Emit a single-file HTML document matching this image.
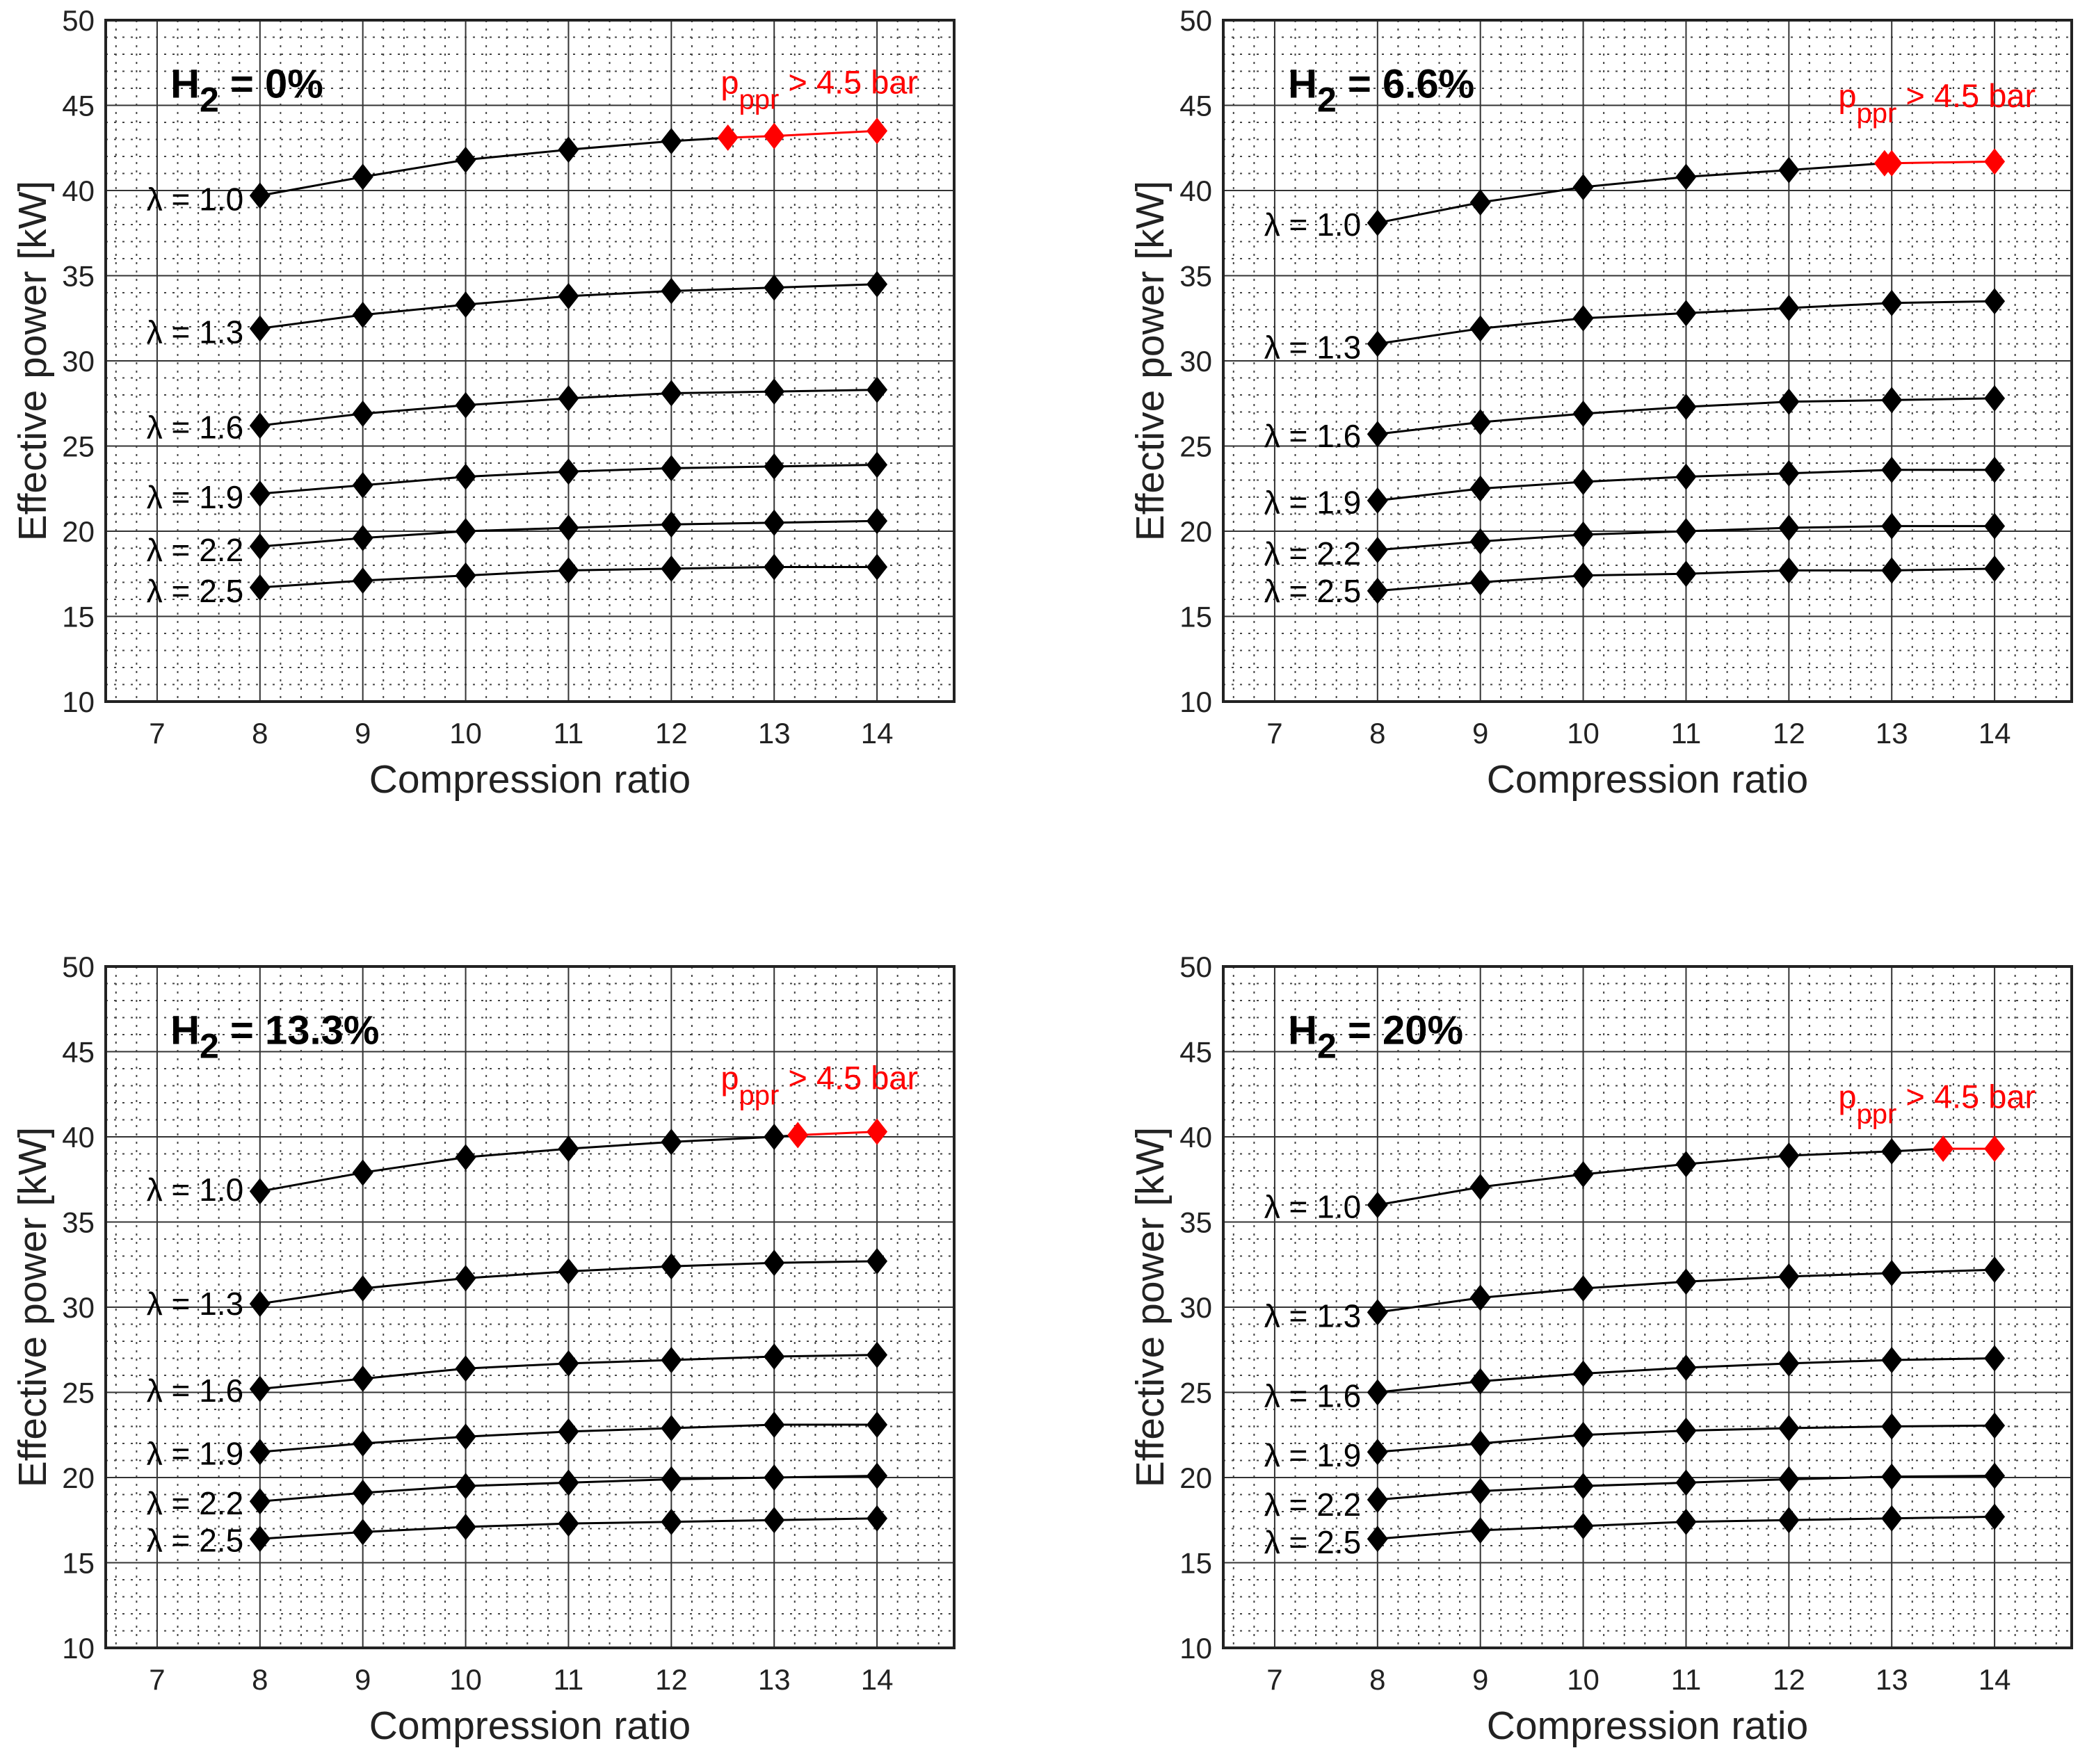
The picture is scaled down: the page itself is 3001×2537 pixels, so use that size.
<!DOCTYPE html>
<html><head><meta charset="utf-8"><style>
html,body{margin:0;padding:0;background:#fff;}
svg{display:block;font-family:"Liberation Sans",Arial,sans-serif;}
</style></head><body>
<svg id="chart" width="3001" height="2537" viewBox="0 0 3001 2537" xmlns="http://www.w3.org/2000/svg"></svg>
<script>
const xTicks = [7,8,9,10,11,12,13,14];
const yTicks = [10,15,20,25,30,35,40,45,50];
const lambdas = ["1.0","1.3","1.6","1.9","2.2","2.5"];
const titles = ["0%","6.6%","13.3%","20%"];
const blackX = [8,9,10,11,12,13,14];
// Panel 1: H2 = 0%
const p1 = [
 [39.7,40.8,41.8,42.4,42.9],
 [31.9,32.7,33.3,33.8,34.1,34.3,34.5],
 [26.2,26.9,27.4,27.8,28.1,28.2,28.3],
 [22.2,22.7,23.2,23.5,23.7,23.8,23.9],
 [19.1,19.6,20.0,20.2,20.4,20.5,20.6],
 [16.7,17.1,17.4,17.7,17.8,17.9,17.9]];
const p1RedX = [12.55,13,14];
const p1RedY = [43.1,43.2,43.5];
// Panel 2: H2 = 6.6%
const p2 = [
 [38.1,39.3,40.2,40.8,41.2],
 [31.0,31.9,32.5,32.8,33.1,33.4,33.5],
 [25.7,26.4,26.9,27.3,27.6,27.7,27.8],
 [21.8,22.5,22.9,23.2,23.4,23.6,23.6],
 [18.9,19.4,19.8,20.0,20.2,20.3,20.3],
 [16.5,17.0,17.4,17.5,17.7,17.7,17.8]];
const p2RedX = [12.93,13,14];
const p2RedY = [41.6,41.6,41.7];
// Panel 3: H2 = 13.3%
const p3 = [
 [36.8,37.9,38.8,39.3,39.7,40.0],
 [30.2,31.1,31.7,32.1,32.4,32.6,32.7],
 [25.2,25.8,26.4,26.7,26.9,27.1,27.2],
 [21.5,22.0,22.4,22.7,22.9,23.1,23.1],
 [18.6,19.1,19.5,19.7,19.9,20.0,20.1],
 [16.4,16.8,17.1,17.3,17.4,17.5,17.6]];
const p3RedX = [13.23,14];
const p3RedY = [40.1,40.3];
// Panel 4: H2 = 20%
const p4 = [
 [36.0,37.05,37.8,38.4,38.9,39.15],
 [29.7,30.55,31.1,31.5,31.8,32.0,32.2],
 [25.0,25.65,26.1,26.45,26.7,26.9,27.0],
 [21.5,22.0,22.5,22.75,22.9,23.0,23.05],
 [18.7,19.2,19.5,19.7,19.9,20.05,20.1],
 [16.4,16.9,17.15,17.4,17.5,17.6,17.7]];
const p4RedX = [13.5,14];
const p4RedY = [39.3,39.3];
const labelY1 = [39.5,31.7,26.1,22.0,18.9,16.5];
const labelY2 = [38.0,30.8,25.6,21.7,18.7,16.5];
const labelY3 = [36.9,30.2,25.1,21.4,18.5,16.3];
const labelY4 = [35.9,29.5,24.8,21.3,18.4,16.2];
const redLabelY = [45.7,44.9,42.8,41.7];

const panels = [
 {ox:152, oy:29, data:p1, rx:p1RedX, ry:p1RedY, ly:labelY1},
 {ox:1759, oy:29, data:p2, rx:p2RedX, ry:p2RedY, ly:labelY2},
 {ox:152, oy:1390, data:p3, rx:p3RedX, ry:p3RedY, ly:labelY3},
 {ox:1759, oy:1390, data:p4, rx:p4RedX, ry:p4RedY, ly:labelY4}];
const W=1220, H=980, XMIN=6.5, XMAX=14.75, YMIN=10, YMAX=50;
const NS="http://www.w3.org/2000/svg";
const svg=document.getElementById('chart');
function mk(tag,attrs,parent){const e=document.createElementNS(NS,tag);for(const k in attrs)e.setAttribute(k,attrs[k]);(parent||svg).appendChild(e);return e;}

panels.forEach((p,pi)=>{
  const sx=v=>p.ox+(v-XMIN)/(XMAX-XMIN)*W;
  const sy=v=>p.oy+H-(v-YMIN)/(YMAX-YMIN)*H;
  const g=mk('g',{});
  
  
  for(let v=6.6;v<14.75;v+=0.2){const vv=Math.round(v*10)/10;if(Number.isInteger(vv)&&vv>=7)continue;
    const l=mk('line',{x1:sx(vv),x2:sx(vv),y1:p.oy,y2:p.oy+H,stroke:'#444','stroke-width':2,'stroke-dasharray':'3 9'},g);
    }
  for(let v=11;v<50;v++){if(v%5===0)continue;
    const l=mk('line',{x1:p.ox,x2:p.ox+W,y1:sy(v),y2:sy(v),stroke:'#444','stroke-width':2,'stroke-dasharray':'3 9'},g);
    }
  xTicks.forEach(t=>{const l=mk('line',{x1:sx(t),x2:sx(t),y1:p.oy,y2:p.oy+H,stroke:'#333','stroke-width':2},g);
    
    const tx=mk('text',{x:sx(t),y:p.oy+H+60,'font-size':42,'text-anchor':'middle',fill:'#222'},g);tx.textContent=t;
    });
  yTicks.forEach(t=>{const l=mk('line',{x1:p.ox,x2:p.ox+W,y1:sy(t),y2:sy(t),stroke:'#333','stroke-width':2},g);
    
    const tx=mk('text',{x:p.ox-16,y:sy(t)+15,'font-size':42,'text-anchor':'end',fill:'#222'},g);tx.textContent=t;
    });
  const fr=mk('rect',{x:p.ox,y:p.oy,width:W,height:H,fill:'none',stroke:'#222','stroke-width':4},g);
  
  const xt=mk('text',{x:p.ox+W/2,y:p.oy+H+131,'font-size':57,'text-anchor':'middle',fill:'#222'},g);xt.textContent='Compression ratio';
  
  const yt=mk('text',{x:0,y:0,'font-size':57,'text-anchor':'middle',fill:'#222',transform:`translate(${p.ox-86},${p.oy+H/2}) rotate(-90)`},g);yt.textContent='Effective power [kW]';
  
  const tt=mk('text',{x:sx(7.13),y:sy(45.45),'font-size':58,'font-weight':'bold',fill:'#000'},g);
  tt.innerHTML='H<tspan font-size="50" dy="20">2</tspan><tspan dy="-20"> = '+titles[pi]+'</tspan>';
  
  const rl=mk('text',{x:sx(12.48),y:sy(redLabelY[pi]),'font-size':47,fill:'#f00'},g);
  rl.innerHTML='p<tspan font-size="40" dy="22">ppr</tspan><tspan dy="-22"> &gt; 4.5 bar</tspan>';
  
  const dia=(x,y,c)=>{const d=mk('path',{d:`M${x},${y-19}L${x+15},${y}L${x},${y+19}L${x-15},${y}Z`,fill:c},g);
    };
  p.data.forEach((ys,si)=>{
    let pts=ys.map((v,i)=>[sx(blackX[i]),sy(v)]);
    const isTop=si===0;
    if(isTop) pts.push([sx(p.rx[0]),sy(p.ry[0])]);
    const pl=mk('polyline',{points:pts.map(q=>q.join(',')).join(' '),fill:'none',stroke:'#000','stroke-width':3},g);
    
    ys.forEach((v,i)=>dia(sx(blackX[i]),sy(v),'#000'));
    if(isTop){
      const rp=p.rx.map((x,i)=>[sx(x),sy(p.ry[i])]);
      const rpl=mk('polyline',{points:rp.map(q=>q.join(',')).join(' '),fill:'none',stroke:'#f00','stroke-width':3},g);
      
      rp.forEach(q=>dia(q[0],q[1],'#f00'));
    }
    const lt=mk('text',{x:sx(7.84),y:sy(p.ly[si])+16,'font-size':46,'text-anchor':'end',fill:'#000'},g);
    lt.textContent='λ = '+lambdas[si];
    
  });
});
</script>
</body></html>
